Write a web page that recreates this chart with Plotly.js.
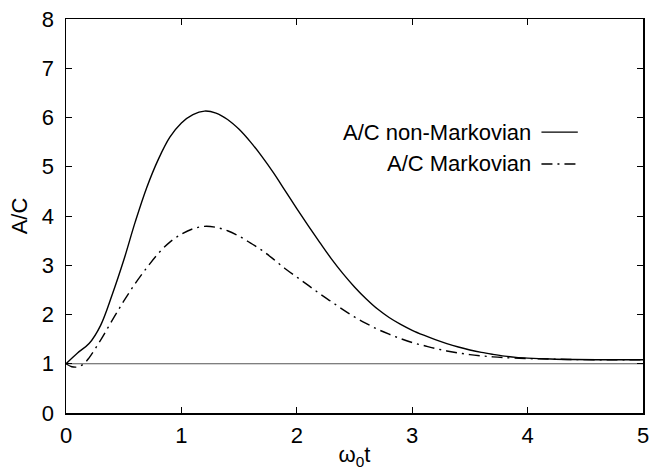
<!DOCTYPE html>
<html>
<head>
<meta charset="utf-8">
<script src="https://cdn.plot.ly/plotly-3.0.1.min.js"></script>
<style>html,body{margin:0;padding:0;background:#fff;}#chart{width:650px;height:470px;}</style>
</head>
<body>
<div id="chart"></div>
<script>
// time axis (omega_0 t)
const tNonMarkov = [0, 0.1, 0.2, 0.3, 0.4, 0.5, 0.6, 0.7, 0.8, 0.9, 1.0, 1.1, 1.2, 1.3, 1.4, 1.5, 1.6, 1.7, 1.8, 1.9, 2.0, 2.1, 2.2, 2.3, 2.4, 2.5, 2.6, 2.7, 2.8, 2.9, 3.0, 3.1, 3.2, 3.3, 3.4, 3.5, 3.6, 3.7, 3.8, 3.9, 4.0, 4.2, 4.4, 4.7, 5.0];
const acNonMarkov = [1.0, 1.22, 1.41, 1.78, 2.4, 3.1, 3.88, 4.58, 5.15, 5.6, 5.89, 6.06, 6.13, 6.09, 5.96, 5.76, 5.5, 5.2, 4.87, 4.51, 4.15, 3.8, 3.46, 3.13, 2.83, 2.56, 2.32, 2.11, 1.94, 1.8, 1.68, 1.58, 1.49, 1.41, 1.34, 1.28, 1.23, 1.19, 1.155, 1.13, 1.115, 1.095, 1.085, 1.08, 1.08];

const tMarkov = [0, 0.05, 0.1, 0.15, 0.2, 0.3, 0.4, 0.5, 0.6, 0.7, 0.8, 0.9, 1.0, 1.1, 1.2, 1.3, 1.4, 1.5, 1.6, 1.7, 1.8, 1.9, 2.0, 2.1, 2.2, 2.3, 2.4, 2.5, 2.6, 2.7, 2.8, 2.9, 3.0, 3.1, 3.2, 3.3, 3.4, 3.5, 3.6, 3.7, 3.8, 4.0, 4.2, 4.4, 4.7, 5.0];
const acMarkov = [1.0, 0.94, 0.935, 0.99, 1.12, 1.48, 1.88, 2.27, 2.63, 2.95, 3.24, 3.47, 3.63, 3.74, 3.79, 3.77, 3.7, 3.59, 3.45, 3.3, 3.12, 2.93, 2.76, 2.59, 2.42, 2.26, 2.1, 1.95, 1.82, 1.7, 1.6, 1.51, 1.43, 1.37, 1.31, 1.26, 1.22, 1.185, 1.16, 1.14, 1.125, 1.105, 1.095, 1.085, 1.08, 1.08];

const tRef = [0, 5];
const acRef = [1, 1];

const seriesNames = ["A/C non-Markovian", "A/C Markovian"];
const xTicks = [0, 1, 2, 3, 4, 5];
const yTicks = [0, 1, 2, 3, 4, 5, 6, 7, 8];

const font = "'Liberation Sans', Arial, sans-serif";
const fs = 22;
const markovDash = "11px,5px,2px,5px";

const traces = [
  {x: tRef, y: acRef, mode: "lines", line: {color: "#555555", width: 1.2}, hoverinfo: "skip"},
  {x: tNonMarkov, y: acNonMarkov, mode: "lines", name: seriesNames[0], line: {color: "#000", width: 1.4, shape: "spline", smoothing: 1}},
  {x: tMarkov, y: acMarkov, mode: "lines", name: seriesNames[1], line: {color: "#000", width: 1.4, shape: "spline", smoothing: 1, dash: markovDash}}
];

const legendRows = [0.713, 0.632];
const layout = {
  width: 650, height: 470,
  margin: {l: 66, r: 7, t: 19, b: 57},
  paper_bgcolor: "#fff", plot_bgcolor: "#fff",
  showlegend: false,
  font: {family: font, size: fs, color: "#000"},
  xaxis: {
    range: [0, 5], tickvals: xTicks, ticktext: xTicks.map(String),
    ticks: "inside", ticklen: 6, tickwidth: 1, tickcolor: "#000",
    showline: true, linecolor: "#000", linewidth: 1.5, mirror: "ticks",
    showgrid: false, zeroline: false,
    tickfont: {family: font, size: fs},
    ticklabelstandoff: 2,
    title: {text: "ω<sub>0</sub>t", font: {family: font, size: fs}, standoff: 4}
  },
  yaxis: {
    range: [0, 8], tickvals: yTicks, ticktext: yTicks.map(String),
    ticks: "inside", ticklen: 6, tickwidth: 1, tickcolor: "#000",
    showline: true, linecolor: "#000", linewidth: 1.5, mirror: "ticks",
    showgrid: false, zeroline: false,
    tickfont: {family: font, size: fs},
    ticklabelstandoff: 6,
    title: {text: "A/C", font: {family: font, size: fs}, standoff: 8}
  },
  annotations: seriesNames.map((n, i) => ({
    xref: "paper", yref: "paper", x: 0.81, y: legendRows[i],
    xanchor: "right", yanchor: "middle", text: n, showarrow: false,
    font: {family: font, size: fs, color: "#000"}
  })),
  shapes: [
    {type: "line", xref: "paper", yref: "paper", x0: 0.824, x1: 0.887, y0: legendRows[0], y1: legendRows[0], line: {color: "#000", width: 1.4}},
    {type: "line", xref: "paper", yref: "paper", x0: 0.824, x1: 0.887, y0: legendRows[1], y1: legendRows[1], line: {color: "#000", width: 1.4, dash: markovDash}}
  ]
};

Plotly.newPlot("chart", traces, layout, {staticPlot: true, displayModeBar: false});
</script>
</body>
</html>
